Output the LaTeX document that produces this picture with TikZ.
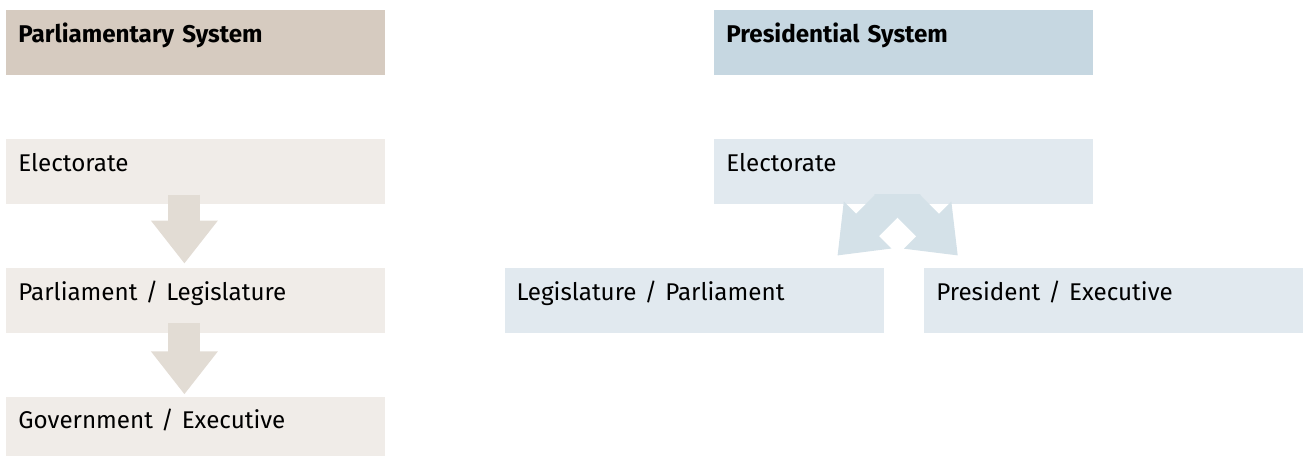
\documentclass[tikz,border=0pt]{standalone}
\usepackage{fontspec}
\setmainfont[WordSpace=0.8]{Fira Sans}
\usepackage{xcolor}
\definecolor{parlHead}{HTML}{D6CBC0}
\definecolor{parlBox}{HTML}{F0ECE8}
\definecolor{parlArrow}{HTML}{E2DCD4}
\definecolor{presHead}{HTML}{C6D7E1}
\definecolor{presBox}{HTML}{E1E9EF}
\definecolor{presArrow}{HTML}{D4E1E8}
\usepackage{tikz}
\usetikzlibrary{arrows.meta,positioning}
\tikzset{
    panel/.style={
        rectangle,
        align=left,
        text width=177.5pt,
        inner xsep=6pt,
        inner ysep=0pt,
        text height=16pt,
        text depth=16.5pt,
        font=\fontsize{12.1}{14}\selectfont
    },
    flow/.style={
        -{Triangle[width=32pt,length=21.5pt]},
        line width=16pt
    }
}

\begin{document}
\begin{tikzpicture}
    \useasboundingbox (0,0) rectangle (652.5pt,-227.5pt);

    % Parliamentary system
    \node[panel, fill=parlHead, anchor=north west] (parlhead) at (3pt,-5pt) {\bfseries Parliamentary System};
    \node[panel, fill=parlBox, below=31.5pt of parlhead] (parlvote) {Electorate};
    \node[panel, fill=parlBox, below=31.5pt of parlvote] (parlleg) {Parliament / Legislature};
    \node[panel, fill=parlBox, below=31.5pt of parlleg] (parlgov) {Government / Executive};

    % Presidential system
    \node[panel, fill=presHead, anchor=north west] (preshead) at (357pt,-5pt) {\bfseries Presidential System};
    \node[panel, fill=presBox, below=31.5pt of preshead] (presvote) {Electorate};
    \node[panel, fill=presBox, below left=31.5pt and 10pt of presvote.south] (presleg) {Legislature / Parliament};
    \node[panel, fill=presBox, below right=31.5pt and 10pt of presvote.south] (presexe) {President / Executive};

    % Arrows
    \draw[flow, draw=parlArrow] ([xshift=-5.75pt,yshift=5pt]parlvote.south) -- ([xshift=-5.75pt,yshift=2pt]parlleg.north);
    \draw[flow, draw=parlArrow] ([xshift=-5.75pt,yshift=5pt]parlleg.south) -- ([xshift=-5.75pt,yshift=1pt]parlgov.north);
    \begin{scope}
        \clip ([yshift=5pt]presvote.south west) rectangle (presexe.north east);
        \draw[flow, draw=presArrow] ([xshift=4.75pt,yshift=13pt]presvote.south) -- ([xshift=-23.25pt,yshift=6pt]presleg.north east);
        \draw[flow, draw=presArrow] ([xshift=-11.25pt,yshift=13pt]presvote.south) -- ([xshift=17pt,yshift=6pt]presexe.north west);
    \end{scope}
\end{tikzpicture}
\end{document}
